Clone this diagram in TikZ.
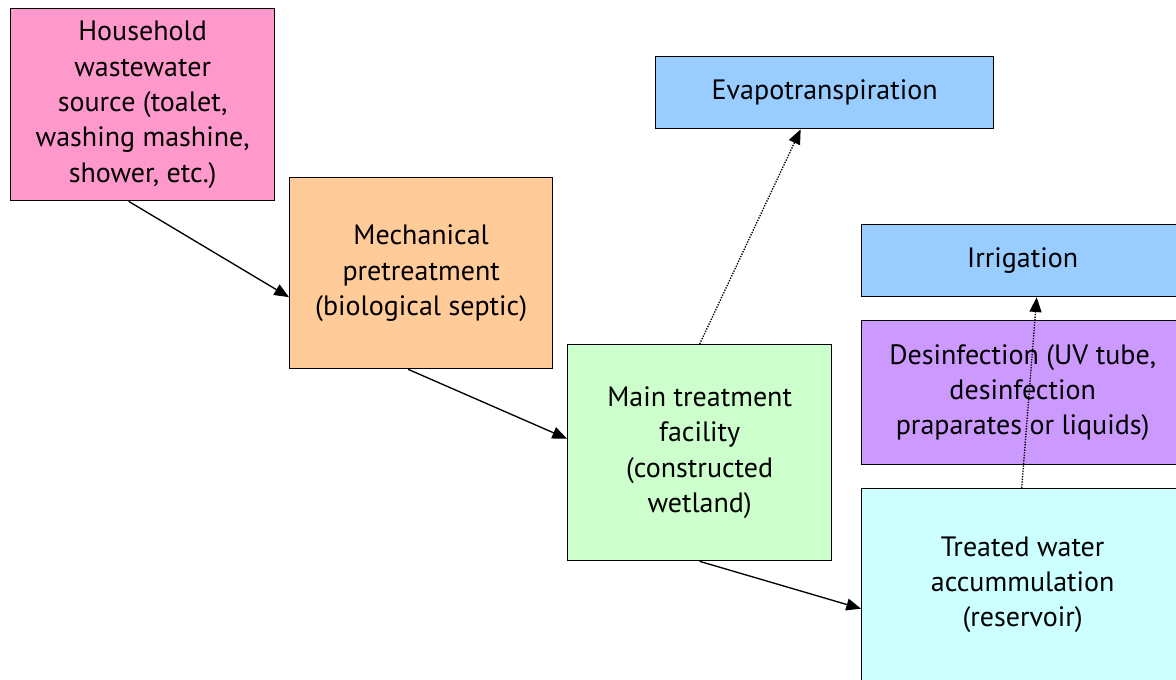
\documentclass[tikz,border=0pt]{standalone}
\usepackage{fontspec}
\setmainfont{PT Sans}
\usepackage{tikz}
\usetikzlibrary{arrows.meta, positioning, calc}
\definecolor{mypink}{RGB}{255,153,204}
\definecolor{myorange}{RGB}{255,204,153}
\definecolor{myblue}{RGB}{153,204,255}
\definecolor{mygreen}{RGB}{204,255,204}
\definecolor{mypurple}{RGB}{204,153,255}
\definecolor{mycyan}{RGB}{204,255,255}
\definecolor{mydark}{RGB}{0,0,0}
\tikzset{
  block/.style={rectangle, draw=mydark, line width=1pt, align=center,
    anchor=north west, font=\fontsize{21}{26.5}\selectfont, inner sep=0pt},
  arrow/.style={-{Triangle[length=11pt, width=9pt]}, line width=1pt, color=mydark},
  dotarrow/.style={-{Triangle[length=11pt, width=9pt]}, line width=1pt, color=mydark,
    dash pattern=on 1pt off 1pt}
}
\begin{document}
\begin{tikzpicture}[x=0.75pt, y=-0.75pt]
  \useasboundingbox (0,0) rectangle (1176,679);

  % Boxes
  \node[block, fill=mypink, minimum width=198pt, minimum height=144pt] (house) at (10,8)
    {Household\\wastewater\\source (toalet,\\washing mashine,\\shower, etc.)};
  \node[block, fill=myorange, minimum width=197.25pt, minimum height=143.25pt] (mech) at (289,177)
    {Mechanical\\pretreatment\\(biological septic)};
  \node[block, fill=myblue, minimum width=253.5pt, minimum height=54pt] (evap) at (655,56)
    {Evapotranspiration};
  \node[block, fill=mygreen, minimum width=198pt, minimum height=162pt] (main) at (567,344)
    {Main treatment\\facility\\(constructed\\wetland)};
  \node[block, fill=myblue, minimum width=241.5pt, minimum height=54pt] (irrig) at (861,224)
    {Irrigation};
  \node[block, fill=mypurple, minimum width=241.5pt, minimum height=108pt] (desinf) at (861,320)
    {Desinfection (UV tube,\\desinfection\\praparates or liquids)};
  \node[block, fill=mycyan, minimum width=241.5pt, minimum height=144pt] (treat) at (861,488)
    {Treated water\\accummulation\\(reservoir)};

  % Flow
  \draw[arrow] ([xshift=-10.5pt]house.south) -- ([yshift=-18pt]mech.west);
  \draw[arrow] ([xshift=-9.75pt]mech.south) -- ([yshift=10.5pt]main.west);
  \draw[arrow] (main.south) -- ([yshift=-18pt]treat.west);

  % Outputs
  \draw[dotarrow] (main.north) -- ([xshift=-18pt]evap.south);
  \draw[dotarrow] ([xshift=-0.75pt]treat.north) -- ([xshift=10.5pt]irrig.south);
\end{tikzpicture}
\end{document}
